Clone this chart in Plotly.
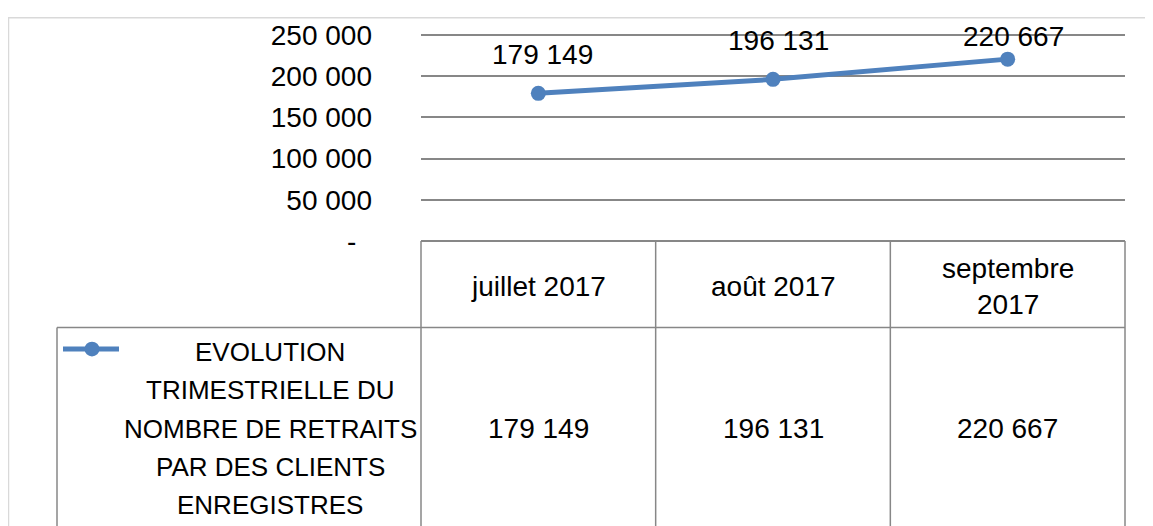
import plotly.graph_objects as go

# ---- data ----
categories = ["juillet 2017", "août 2017", "septembre 2017"]
category_labels = ["juillet 2017", "août 2017", "septembre<br>2017"]
values = [179149, 196131, 220667]
series_name_lines = ["EVOLUTION", "TRIMESTRIELLE DU", "NOMBRE DE RETRAITS", "PAR DES CLIENTS", "ENREGISTRES"]
y_ticks = [0, 50000, 100000, 150000, 200000, 250000]
y_max = 250000

# ---- style ----
BLUE = "#4f81bd"
GRID = "#878787"
FONT = "Liberation Sans"
OFF = 8          # default page body margin
PAD = 3          # px of axis padding so edge gridlines are drawn
Y_TOP, Y_ZERO = 31, 241      # page px of y_max and 0
X_LEFT, X_RIGHT = 421, 1125  # page px of plot area
W, H = 1153 - OFF, 526 - OFF
L = X_LEFT - OFF
R = W - (X_RIGHT - OFF)
T = Y_TOP - PAD - OFF
B = H - (Y_ZERO + PAD - OFF)
PW, PH = W - L - R, H - T - B
unit = y_max / (Y_ZERO - Y_TOP)  # value per px
label_yshift = [39, 39, 23]
label_xshift = [4, 5, 6]
TXT_DY = 2


def fmt(v):
    return "-\u00a0\u00a0" if v == 0 else f"{v:,}".replace(",", "\u00a0")


# page-pixel -> paper coordinates
def px_x(p):
    return (p - X_LEFT) / PW


def px_y(p):
    return (Y_ZERO + PAD - p) / PH


x_idx = list(range(len(categories)))

fig = go.Figure()
fig.add_trace(go.Scatter(
    x=x_idx, y=values, mode="lines+markers", name=" ".join(series_name_lines),
    line=dict(color=BLUE, width=5), marker=dict(color=BLUE, size=15),
    showlegend=False, hoverinfo="skip",
))

annotations = []
for i, v in enumerate(values):
    annotations.append(dict(
        x=i, y=v, xref="x", yref="y", text=fmt(v), showarrow=False,
        yshift=label_yshift[i], xshift=label_xshift[i],
        font=dict(family=FONT, size=28, color="black"),
        xanchor="center", yanchor="middle",
    ))
for i, c in enumerate(category_labels):
    annotations.append(dict(
        x=i, y=px_y(285 + TXT_DY), xref="x", yref="paper", text=c, showarrow=False,
        font=dict(family=FONT, size=28, color="black"),
        xanchor="center", yanchor="middle",
    ))
for i, v in enumerate(values):
    annotations.append(dict(
        x=i, y=px_y(430 + TXT_DY), xref="x", yref="paper", text=fmt(v), showarrow=False,
        font=dict(family=FONT, size=28, color="black"),
        xanchor="center", yanchor="middle",
    ))
for k, line in enumerate(series_name_lines):
    annotations.append(dict(
        x=px_x(270), y=px_y(352 + TXT_DY + k * 39), xref="paper", yref="paper",
        text=line, showarrow=False,
        font=dict(family=FONT, size=26, color="black"),
        xanchor="center", yanchor="middle",
    ))

shapes = []
line_style = dict(color=GRID, width=1.5)


def seg(x0, y0, x1, y1, **kw):
    d = dict(type="line", xref="paper", yref="paper",
             x0=px_x(x0), y0=px_y(y0), x1=px_x(x1), y1=px_y(y1), layer="above")
    d.update(kw)
    return d


shapes.append(dict(type="rect", xref="paper", yref="paper",
                   x0=px_x(8.5), y0=px_y(13.5), x1=px_x(1170), y1=px_y(560),
                   line=dict(color="#d9d9d9", width=1.5), layer="below"))
shapes.append(seg(X_LEFT, Y_ZERO, X_RIGHT, Y_ZERO, line=line_style))
shapes.append(seg(57, 329, X_RIGHT, 329, line=line_style))
shapes.append(seg(57, 329, 57, 560, line=line_style))
for b in [-0.5 + j for j in range(len(categories) + 1)]:
    xp = X_LEFT + (b + 0.5) / len(categories) * PW
    shapes.append(seg(xp, Y_ZERO, xp, 560, line=line_style))
shapes.append(seg(63, 351, 119, 351, line=dict(color=BLUE, width=5)))
shapes.append(dict(type="circle", xref="paper", yref="paper",
                   x0=px_x(92 - 7.5), x1=px_x(92 + 7.5), y0=px_y(351 - 7.5), y1=px_y(351 + 7.5),
                   fillcolor=BLUE, line=dict(color=BLUE, width=0)))

fig.update_layout(
    width=W, height=H,
    margin=dict(l=L, r=R, t=T, b=B),
    paper_bgcolor="white", plot_bgcolor="white",
    showlegend=False,
    xaxis=dict(range=[-0.5, len(categories) - 0.5], showticklabels=False, showgrid=False,
               zeroline=False, showline=False, ticks=""),
    yaxis=dict(range=[-PAD * unit, y_max + PAD * unit], tickvals=y_ticks,
               ticktext=[fmt(v) for v in y_ticks],
               showgrid=True, gridcolor=GRID, gridwidth=1.5, zeroline=False, showline=False,
               ticks="", ticklabelstandoff=48,
               tickfont=dict(family=FONT, size=28, color="black")),
    annotations=annotations,
    shapes=shapes,
)

fig.write_html("out.html", config={"displayModeBar": False})
